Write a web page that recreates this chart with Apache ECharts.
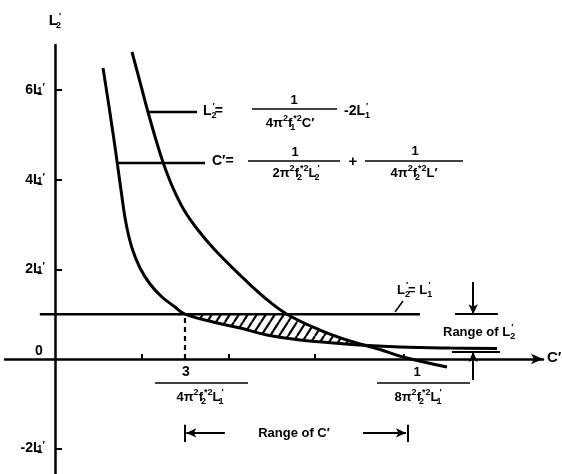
<!DOCTYPE html>
<html><head><meta charset="utf-8">
<script src="https://cdn.jsdelivr.net/npm/echarts@6/dist/echarts.min.js"></script>
<style>html,body{margin:0;padding:0;background:#fff}#c{width:562px;height:474px}</style>
</head><body><div id="c"></div>
<script>
// ---- data (C' in units of 1/(4π²f2*²L1'), L2' in units of L1') ----
const curveA_C = [1.108, 1.269, 1.408, 1.523, 1.638, 1.777, 1.962, 2.192, 2.469, 2.769, 3.0, 3.646, 4.270, 4.893, 5.654, 7.039, 7.96, 9.12, 10.2];
const curveA_L = [6.496, 5.491, 4.576, 3.772, 3.036, 2.478, 2.031, 1.674, 1.384, 1.161, 1.0, 0.826, 0.692, 0.536, 0.424, 0.3125, 0.27, 0.245, 0.234];
const curveB_C = [1.777, 1.962, 2.146, 2.331, 2.515, 2.723, 2.977, 3.300, 3.692, 4.269, 4.846, 5.354, 6.115, 6.808, 7.500, 8.031, 9.046];
const curveB_L = [6.853, 6.183, 5.513, 4.888, 4.330, 3.817, 3.326, 2.879, 2.433, 1.875, 1.362, 1.0, 0.647, 0.402, 0.212, 0.045, -0.179];
const shadeC = [3.0, 5.354, 6.115, 6.416, 6.808, 7.30, 7.039, 5.654, 4.893, 4.270, 3.646, 3.0];
const shadeL = [1.0, 1.0, 0.647, 0.54, 0.402, 0.29, 0.3125, 0.424, 0.536, 0.692, 0.826, 1.0];
const levelLineC = [-0.35, 8.42];
const levelLineL = [1, 1];
const xTickValues = [2, 3, 4, 6, 8.05];
const yTickValues = [6, 4, 2, -2];
const yTickLabels = ['6L{s|1}{p|′}', '4L{s|1}{p|′}', '2L{s|1}{p|′}', '-2L{s|1}{p|′}'];
const rangeC = [3.0, 8.13];
const rangeL2 = [0.156, 1.0];

const FF = "'Liberation Sans', Arial, sans-serif";
const chart = echarts.init(document.getElementById('c'));

function hatch() {
  const c = document.createElement('canvas');
  c.width = 9; c.height = 14;
  const g = c.getContext('2d');
  g.strokeStyle = '#000'; g.lineWidth = 2.2;
  for (const dx of [-9, 0, 9]) { g.beginPath(); g.moveTo(dx, 14); g.lineTo(dx + 9, 0); g.stroke(); }
  return c;
}
const pattern = { image: hatch(), repeat: 'repeat' };

const richSt = {
  sp: { fontSize: 9, fontWeight: 'bold', fontFamily: FF, verticalAlign: 'top', lineHeight: 10, fill: '#000', color: '#000' },
  sb: { fontSize: 9, fontWeight: 'bold', fontFamily: FF, verticalAlign: 'bottom', lineHeight: 10, width: 1, fill: '#000', color: '#000' }
};
function T(x, y, text, align, size) {
  return { type: 'text', silent: true, x: x, y: y, style: {
    text: text, fill: '#000', font: 'bold ' + (size || 13) + 'px ' + FF, lineHeight: 18,
    align: align || 'left', textAlign: align || 'left', verticalAlign: 'middle', textVerticalAlign: 'middle', rich: richSt } };
}
function L(x1, y1, x2, y2, w) {
  return { type: 'line', silent: true, shape: { x1: x1, y1: y1, x2: x2, y2: y2 }, style: { stroke: '#000', lineWidth: w || 1.5 } };
}

const black = { color: '#000' };
function lineSeries(xs, ys, w, extra) {
  return Object.assign({ type: 'line', data: xs.map((x, i) => [x, ys[i]]), showSymbol: false, symbol: 'none',
    lineStyle: { color: '#000', width: w }, itemStyle: black, silent: true }, extra || {});
}
function ml(a, b, sym) {
  return [{ coord: a, symbol: sym[0] }, { coord: b, symbol: sym[1] }];
}

const option = {
  animation: false,
  backgroundColor: '#fff',
  grid: { left: 5, right: 19, top: 45, bottom: 0, containLabel: false, outerBoundsMode: 'none' },
  xAxis: {
    type: 'value', min: -1.154, max: 11.262, splitLine: { show: false },
    axisLine: { onZero: true, lineStyle: { color: '#000', width: 2.5 }, symbol: ['none', 'arrow'], symbolSize: [8, 12] },
    axisTick: { show: true, inside: true, length: 5, lineStyle: { color: '#000', width: 2 }, customValues: xTickValues },
    axisLabel: { show: false }
  },
  yAxis: {
    type: 'value', min: -2.567, max: 7.009, splitLine: { show: false }, position: 'left', offset: -50,
    axisLine: { onZero: false, lineStyle: { color: '#000', width: 2.5 } },
    axisTick: { show: true, inside: true, length: 7, lineStyle: { color: '#000', width: 2 }, customValues: yTickValues },
    axisLabel: {
      customValues: yTickValues, margin: 10, color: '#000', fontSize: 14, fontWeight: 'bold', fontFamily: FF,
      formatter: v => yTickLabels[yTickValues.indexOf(v)],
      rich: { s: { fontSize: 10, fontWeight: 'bold', fontFamily: FF, color: '#000', verticalAlign: 'bottom', lineHeight: 10, width: 1 },
              p: { fontSize: 10, fontWeight: 'bold', fontFamily: FF, color: '#000', verticalAlign: 'top', lineHeight: 10 } }
    }
  },
  series: [
    { type: 'custom', silent: true, z: 1, data: [[0, 0]],
      renderItem: (params, api) => ({ type: 'polygon',
        shape: { points: shadeC.map((c, i) => api.coord([c, shadeL[i]])) },
        style: { fill: pattern, stroke: null } }) },
    lineSeries(curveA_C, curveA_L, 3, { smooth: 0.4, z: 3 }),
    lineSeries(curveB_C, curveB_L, 3, { smooth: 0.4, z: 3 }),
    lineSeries(levelLineC, levelLineL, 2.5, { z: 3 }),
    lineSeries([3, 3], [0, 1], 2.2, { lineStyle: { color: '#000', width: 2.2, type: [5, 4] }, z: 3 }),
    { type: 'line', data: [], silent: true,
      markLine: { silent: true, animation: false, symbolSize: [7, 10], label: { show: false },
        lineStyle: { color: '#000', width: 2, type: 'solid' },
        data: [
          ml([9.23, rangeL2[1]], [10.22, rangeL2[1]], ['none', 'none']),
          ml([9.65, 1.72], [9.65, rangeL2[1]], ['none', 'arrow']),
          ml([9.16, rangeL2[0]], [10.27, rangeL2[0]], ['none', 'none']),
          ml([9.65, -0.47], [9.65, rangeL2[0]], ['none', 'arrow']),
          ml([rangeC[0], -1.47], [rangeC[0], -1.85], ['none', 'none']),
          ml([rangeC[1], -1.47], [rangeC[1], -1.85], ['none', 'none']),
          ml([3.92, -1.65], [rangeC[0] + 0.03, -1.65], ['none', 'arrow']),
          ml([7.11, -1.65], [rangeC[1] - 0.03, -1.65], ['none', 'arrow'])
        ] } }
  ],
  graphic: { elements: [
    T(55, 21, 'L{sb|2}{sp|′}', 'center', 15),
    T(547, 358, 'C′', 'left', 15),
    T(39, 351, '0', 'center', 14),
    // formula 1
    L(148, 112, 197, 112, 2.5),
    T(203, 111, 'L{sb|2}{sp|′}=', 'left', 14),
    T(294, 100, '1', 'center'),
    L(252, 109, 337, 109, 1.5),
    T(290, 123, '4π{sp|2}f{sb|1}{sp|*2}C′', 'center'),
    T(344, 111, '-2L{sb|1}{sp|′}', 'left', 14),
    // formula 2
    L(118, 163, 205, 163, 2.5),
    T(212, 161, 'C′=', 'left', 14),
    T(295, 152, '1', 'center'),
    L(248, 161, 340, 161, 1.5),
    T(296, 173, '2π{sp|2}f{sb|2}{sp|*2}L{sb|2}{sp|′}', 'center'),
    T(353, 162, '+', 'center', 15),
    T(415, 151, '1', 'center'),
    L(365, 161, 463, 161, 1.5),
    T(414, 173, '4π{sp|2}f{sb|2}{sp|*2}L′', 'center'),
    // level label
    T(397, 290, 'L{sb|2}{sp|′}= L{sb|1}{sp|′}', 'left', 13),
    L(395, 312, 403, 301, 1.5),
    T(443, 332, 'Range of L{sb|2}{sp|′}', 'left', 13),
    // fractions under axis
    T(186, 372, '3', 'center', 14),
    L(155, 383, 248, 383, 1.5),
    T(200, 397, '4π{sp|2}f{sb|2}{sp|*2}L{sb|1}{sp|′}', 'center'),
    T(417, 372, '1', 'center'),
    L(377, 383, 470, 383, 1.5),
    T(418, 397, '8π{sp|2}f{sb|2}{sp|*2}L{sb|1}{sp|′}', 'center'),
    T(294, 433, 'Range of C′', 'center', 13)
  ] }
};
chart.setOption(option);
</script></body></html>
